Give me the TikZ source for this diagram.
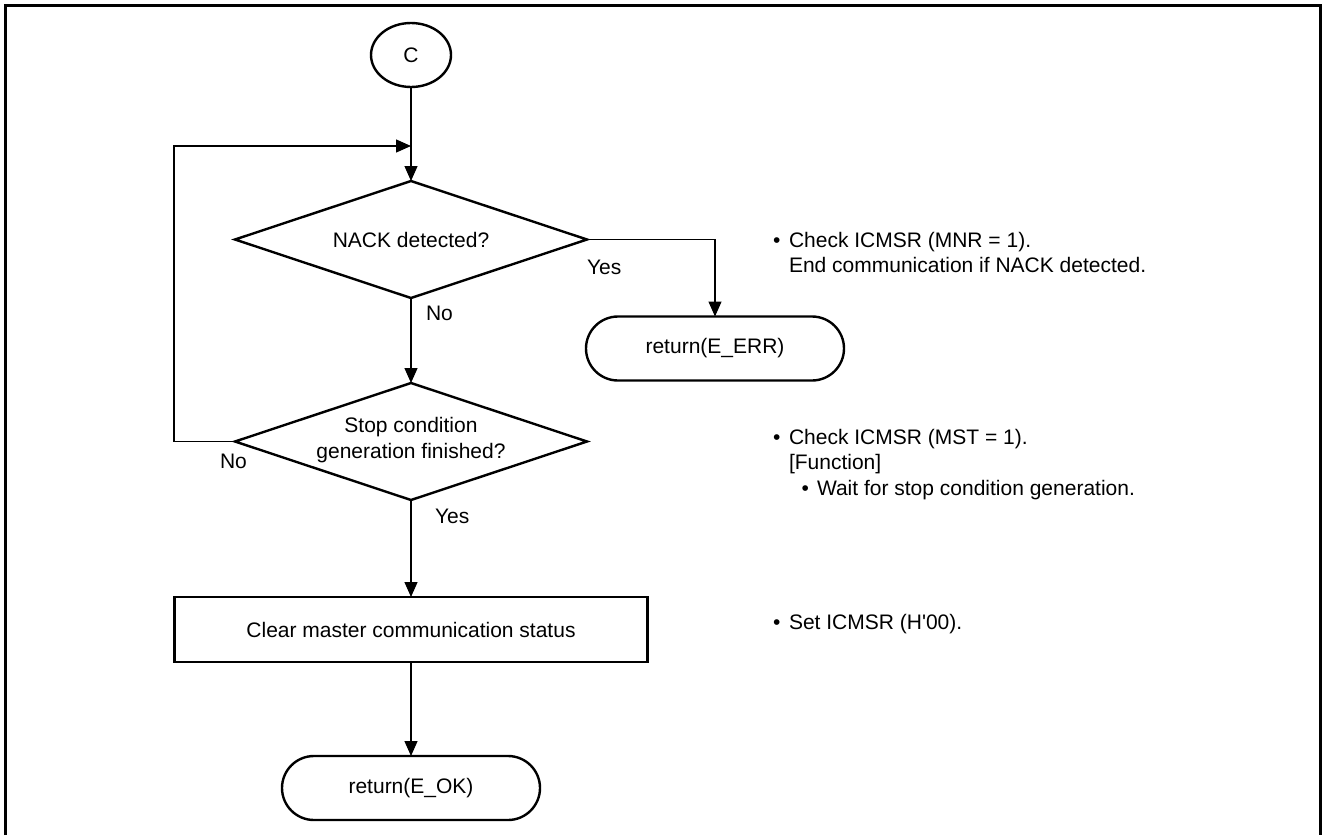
\documentclass[tikz,border=0pt]{standalone}
\usepackage{fontspec}
\setmainfont{Liberation Sans}[Ligatures=TeXOff]
\usetikzlibrary{shapes.geometric,arrows.meta}
\begin{document}
\begin{tikzpicture}[x=1pt,y=-1pt,
  every node/.style={font=\fontsize{21}{25.5}\selectfont, inner sep=0pt, outer sep=0pt},
  shapeline/.style={draw, line width=2.4pt},
  flow/.style={line width=1.3pt, -{Triangle[length=15pt,width=13pt]}},
  decision/.style={shapeline, diamond, minimum width=352pt, minimum height=117pt},
  process/.style={shapeline, rectangle, minimum width=473pt, minimum height=65pt},
  terminal/.style={shapeline, rectangle, rounded corners=32pt, minimum width=258pt, minimum height=64pt},
  connector/.style={shapeline, ellipse, minimum width=80pt, minimum height=64pt},
  lbl/.style={anchor=base west},
]
\useasboundingbox (0,0) rectangle (1322,835);
% outer frame
\draw[line width=3pt] (5.5,835) -- (5.5,5.5) -- (1320,5.5) -- (1320,835);

% flowchart nodes
\node[connector] (c) at (411,55) {C};
\coordinate (join) at (411,146);
\node[decision] (d1) at (411,239.5) {};
\node (d1t) at (d1) {NACK detected?};
\node[terminal] (err) at (715,348.5) {return(E\_ERR)};
\node[decision] (d2) at (411,441.5) {};
\node[align=center] (d2t) at (411,440) {Stop condition\\generation finished?};
\node[process] (clr) at (411,629.5) {Clear master communication status};
\node[terminal] (ok) at (411,788) {return(E\_OK)};

% connectors
\draw[flow] (c) -- (d1);
\draw[flow] (d1.east) -| (err.north);
\draw[flow] (d1) -- (d2);
\draw[flow] (d2.west) -- ++(-61,0) |- (join);
\draw[flow] (d2) -- (clr);
\draw[flow] (clr) -- (ok);

% branch labels
\node[lbl] (y1) at (587,274) {Yes};
\node[lbl] (n1) at (426,320.5) {No};
\node[lbl] (n2) at (220,468) {No};
\node[lbl] (y2) at (435,523.5) {Yes};

% notes
\node[lbl] (b1) at (773,247) {•};
\node[lbl] (a1) at (789,247) {Check ICMSR (MNR = 1).};
\node[lbl] (a2) at (789,272) {End communication if NACK detected.};
\node[lbl] (b2) at (773,444) {•};
\node[lbl] (a3) at (789,444) {Check ICMSR (MST = 1).};
\node[lbl] (a4) at (789,469.5) {[Function]};
\node[lbl] (b3) at (801.5,495) {•};
\node[lbl] (a5) at (817,495) {Wait for stop condition generation.};
\node[lbl] (b4) at (773,629) {•};
\node[lbl] (a6) at (789,629) {Set ICMSR (H'00).};
\end{tikzpicture}
\end{document}
